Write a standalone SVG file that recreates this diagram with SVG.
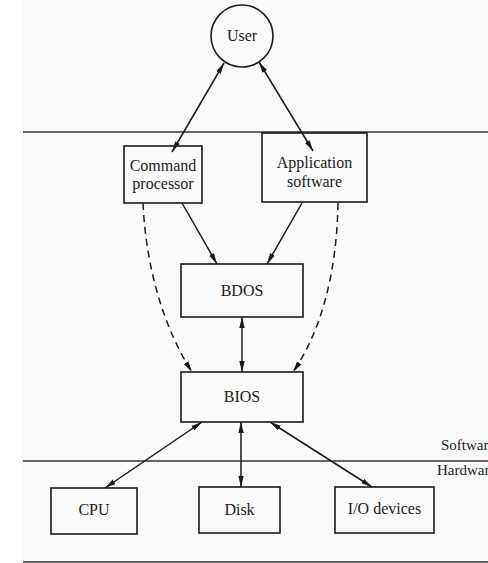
<svg xmlns="http://www.w3.org/2000/svg" width="488" height="563" viewBox="0 0 488 563">
  <defs>
    <marker id="head" viewBox="0 0 11 6" refX="11" refY="3" markerWidth="11" markerHeight="6" markerUnits="userSpaceOnUse" orient="auto-start-reverse">
      <path d="M0,0.3 L11,3 L0,5.7 Z" fill="#1a1a1a"/>
    </marker>
    <style>
      .box { fill: none; stroke: #1a1a1a; stroke-width: 1.6; }
      .lbl { font-family: "Liberation Serif", "Times New Roman", serif; font-size: 16px; fill: #1a1a1a; text-anchor: middle; }
      .side { font-family: "Liberation Serif", "Times New Roman", serif; font-size: 15px; fill: #1a1a1a; }
      .rule { stroke: #333; stroke-width: 1.4; fill: none; }
      .link { stroke: #1a1a1a; stroke-width: 1.5; fill: none; }
      .one { marker-end: url(#head); }
      .two { marker-start: url(#head); marker-end: url(#head); }
      .dash { stroke-dasharray: 7 5; }
    </style>
  </defs>

  <rect x="23" y="0" width="465" height="563" fill="#fafafa"/>

  <!-- software / hardware boundaries -->
  <g id="layers">
    <line class="rule" x1="23" y1="132" x2="488" y2="132"/>
    <line class="rule" x1="23" y1="461" x2="488" y2="461"/>
    <line class="rule" x1="23" y1="562" x2="488" y2="562" stroke-width="1.7"/>
    <text class="side" x="441" y="450">Software</text>
    <text class="side" x="437" y="475">Hardware</text>
  </g>

  <g id="user">
    <circle class="box" cx="242" cy="36" r="31"/>
    <text class="lbl" x="242" y="41">User</text>
  </g>

  <g id="command-processor">
    <rect class="box" x="124" y="146" width="78" height="57"/>
    <text class="lbl" x="163" y="171">Command</text>
    <text class="lbl" x="163" y="189">processor</text>
  </g>

  <g id="application-software">
    <rect class="box" x="262" y="133" width="105" height="69"/>
    <text class="lbl" x="314.5" y="168">Application</text>
    <text class="lbl" x="314.5" y="187">software</text>
  </g>

  <g id="bdos">
    <rect class="box" x="181" y="264" width="122" height="53"/>
    <text class="lbl" x="242" y="296">BDOS</text>
  </g>

  <g id="bios">
    <rect class="box" x="181" y="372" width="122" height="50"/>
    <text class="lbl" x="242" y="402">BIOS</text>
  </g>

  <g id="cpu">
    <rect class="box" x="51" y="488" width="86" height="46"/>
    <text class="lbl" x="94" y="515">CPU</text>
  </g>

  <g id="disk">
    <rect class="box" x="199" y="487" width="81" height="46"/>
    <text class="lbl" x="239.5" y="515">Disk</text>
  </g>

  <g id="io-devices">
    <rect class="box" x="335" y="487" width="99" height="46"/>
    <text class="lbl" x="384.5" y="514">I/O devices</text>
  </g>

  <g id="connectors">
    <line class="link two" x1="224" y1="63" x2="172" y2="152"/>
    <line class="link two" x1="259" y1="62" x2="313" y2="151"/>
    <line class="link one" x1="182" y1="203" x2="217" y2="264"/>
    <line class="link one" x1="302" y1="203" x2="267" y2="264"/>
    <line class="link two" x1="242" y1="317" x2="242" y2="372"/>
    <path class="link one dash" d="M143,203 C146,270 165,330 192,372"/>
    <path class="link one dash" d="M338,203 C337,270 322,330 293,372"/>
    <line class="link two" x1="202" y1="422" x2="105" y2="488"/>
    <line class="link two" x1="241" y1="422" x2="241" y2="487"/>
    <line class="link two" x1="270" y1="422" x2="372" y2="487"/>
  </g>
</svg>
